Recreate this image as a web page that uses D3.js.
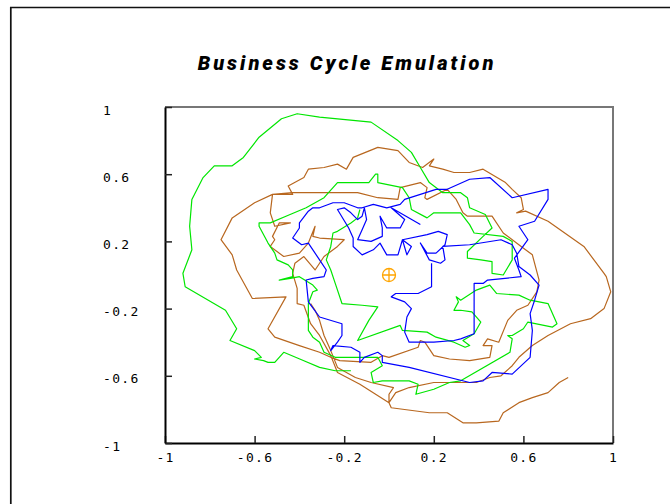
<!DOCTYPE html>
<html>
<head>
<meta charset="utf-8">
<script src="https://cdn.jsdelivr.net/npm/d3@7"></script>
<style>
  body { margin: 0; background: #fff; }
  svg { display: block; }
</style>
</head>
<body>
<svg width="670" height="504"></svg>
<script>
const width = 670, height = 504;
const svg = d3.select("svg");

// three emulated cycles, [x, y] in axis units
const brownCycle = [
  [-0.35,-0.17],[-0.33,-0.21],[-0.31,-0.27],[-0.29,-0.36],[-0.26,-0.45],[-0.23,-0.55],[-0.15,-0.61],[-0.08,-0.64],
  [0.02,-0.67],[0.00,-0.71],[0.00,-0.76],[0.03,-0.70],[0.09,-0.67],[0.20,-0.64],[0.32,-0.64],[0.39,-0.64],
  [0.45,-0.61],[0.50,-0.60],[0.55,-0.54],[0.58,-0.49],[0.64,-0.42],[0.71,-0.36],[0.81,-0.29],[0.90,-0.26],
  [0.96,-0.20],[0.99,-0.10],[0.97,-0.01],[0.96,0.01],[0.87,0.17],[0.71,0.32],[0.61,0.38],[0.57,0.37],
  [0.60,0.39],[0.59,0.46],[0.55,0.51],[0.52,0.55],[0.42,0.63],[0.36,0.61],[0.29,0.61],[0.24,0.63],
  [0.18,0.65],[0.20,0.69],[0.15,0.64],[0.09,0.67],[0.04,0.74],[-0.05,0.76],[-0.16,0.70],[-0.19,0.63],
  [-0.23,0.66],[-0.29,0.64],[-0.36,0.63],[-0.38,0.58],[-0.45,0.53],[-0.43,0.48],[-0.52,0.48],[-0.43,0.49],
  [-0.31,0.49],[-0.14,0.49],[-0.05,0.46],[0.04,0.45],[0.05,0.52],[0.14,0.55],[0.17,0.52],[0.16,0.46],
  [0.17,0.45],[0.26,0.51],[0.30,0.45],[0.33,0.37],[0.35,0.35],[0.46,0.35],[0.51,0.25],[0.59,0.17],
  [0.64,0.12],[0.67,-0.03],[0.66,-0.10],[0.62,-0.18],[0.57,-0.21],[0.53,-0.27],[0.49,-0.40],[0.44,-0.38],
  [0.42,-0.42],[0.46,-0.42],[0.45,-0.49],[0.36,-0.51],[0.27,-0.50],[0.20,-0.48],[0.16,-0.40],[0.14,-0.39],
  [0.13,-0.43],[0.00,-0.49],[-0.03,-0.48],[-0.08,-0.52],[-0.22,-0.51],[-0.26,-0.49],[-0.31,-0.46],[-0.40,-0.42],
  [-0.51,-0.37],[-0.54,-0.32],[-0.46,-0.13],[-0.61,-0.14],[-0.68,0.03],[-0.70,0.12],[-0.75,0.21],[-0.70,0.34],
  [-0.60,0.43],[-0.52,0.48],[-0.53,0.37],[-0.51,0.29],[-0.44,0.31],[-0.49,0.31],[-0.52,0.23],[-0.51,0.21],
  [-0.53,0.17],[-0.47,0.11],[-0.40,0.13],[-0.36,0.19],[-0.33,0.29],[-0.34,0.23],[-0.31,0.22],[-0.20,0.21],
  [-0.23,0.17],[-0.29,0.11],[-0.33,0.03],[-0.38,0.11],[-0.42,0.07],[-0.43,0.01],[-0.41,-0.08],[-0.41,-0.17],
  [-0.38,-0.18],[-0.35,-0.29],[-0.31,-0.36],[-0.26,-0.48],[-0.23,-0.58],[-0.13,-0.65],[0.00,-0.76],[0.01,-0.79],
  [0.18,-0.82],[0.26,-0.82],[0.33,-0.88],[0.39,-0.88],[0.49,-0.87],[0.51,-0.82],[0.58,-0.76],[0.64,-0.73],
  [0.71,-0.70],[0.76,-0.64],[0.80,-0.61]
];

const greenCycle = [
  [-0.13,0.39],[-0.14,0.34],[-0.17,0.31],[-0.23,0.26],[-0.25,0.25],[-0.26,0.17],[-0.28,0.09],[-0.26,0.03],
  [-0.24,-0.05],[-0.21,-0.17],[-0.12,-0.18],[-0.05,-0.19],[-0.09,-0.27],[-0.14,-0.39],[0.05,-0.30],[0.06,-0.33],
  [0.17,-0.34],[0.21,-0.37],[0.29,-0.40],[0.34,-0.43],[0.36,-0.42],[0.33,-0.39],[0.38,-0.35],[0.41,-0.28],
  [0.37,-0.22],[0.32,-0.21],[0.29,-0.21],[0.31,-0.16],[0.30,-0.13],[0.32,-0.15],[0.39,-0.09],[0.45,-0.06],
  [0.48,-0.11],[0.58,-0.12],[0.63,-0.15],[0.71,-0.17],[0.75,-0.29],[0.73,-0.31],[0.62,-0.28],[0.60,-0.32],
  [0.55,-0.36],[0.53,-0.36],[0.55,-0.38],[0.54,-0.46],[0.32,-0.63],[0.27,-0.64],[0.20,-0.68],[0.12,-0.71],
  [0.13,-0.65],[0.09,-0.63],[-0.03,-0.63],[-0.07,-0.64],[-0.08,-0.58],[-0.03,-0.54],[-0.05,-0.49],[-0.14,-0.49],
  [-0.24,-0.49],[-0.29,-0.46],[-0.31,-0.40],[-0.34,-0.37],[-0.36,-0.33],[-0.36,-0.17],[-0.34,-0.10],[-0.32,-0.09],
  [-0.34,-0.06],[-0.40,-0.01],[-0.44,-0.02],[-0.49,-0.03],[-0.43,-0.01],[-0.43,0.03],[-0.45,0.06],[-0.50,0.09],
  [-0.51,0.13],[-0.54,0.19],[-0.58,0.29],[-0.58,0.31],[-0.53,0.31],[-0.46,0.35],[-0.37,0.40],[-0.29,0.46],
  [-0.23,0.55],[-0.09,0.55],[-0.06,0.60],[-0.05,0.60],[-0.05,0.55],[0.06,0.52],[0.09,0.46],[0.10,0.39],
  [0.17,0.34],[0.20,0.37],[0.32,0.37],[0.36,0.30],[0.38,0.25],[0.51,0.23],[0.55,0.20],[0.55,0.09],
  [0.51,0.00],[0.46,0.01],[0.46,0.08],[0.41,0.09],[0.35,0.10],[0.35,0.14],[0.42,0.23],[0.46,0.28],
  [0.43,0.36],[0.36,0.40],[0.35,0.46],[0.32,0.49],[0.24,0.49],[0.18,0.55],[0.14,0.64],[0.10,0.73],
  [0.04,0.80],[-0.08,0.91],[-0.31,0.94],[-0.41,0.96],[-0.48,0.93],[-0.58,0.82],[-0.65,0.70],[-0.70,0.65],
  [-0.78,0.65],[-0.83,0.58],[-0.88,0.45],[-0.89,0.29],[-0.88,0.15],[-0.92,0.01],[-0.91,-0.07],[-0.73,-0.21],
  [-0.68,-0.32],[-0.71,-0.39],[-0.60,-0.45],[-0.57,-0.49],[-0.60,-0.50],[-0.56,-0.51],[-0.54,-0.52],[-0.51,-0.52],
  [-0.47,-0.46],[-0.38,-0.51],[-0.31,-0.55],[-0.24,-0.57],[-0.17,-0.57]
];

const blueCycle = [
  [0.14,0.30],[0.01,0.40],[0.07,0.33],[0.05,0.28],[-0.01,0.28],[-0.04,0.35],[-0.03,0.28],[-0.03,0.23],
  [-0.08,0.20],[-0.14,0.21],[-0.12,0.27],[-0.10,0.33],[-0.11,0.40],[-0.12,0.35],[-0.14,0.33],[-0.17,0.37],
  [-0.20,0.40],[-0.23,0.39],[-0.18,0.28],[-0.16,0.22],[-0.16,0.17],[-0.12,0.12],[-0.07,0.15],[-0.04,0.19],
  [-0.01,0.12],[0.04,0.12],[0.06,0.21],[0.08,0.12],[0.10,0.17],[0.06,0.21],[0.17,0.24],[0.22,0.26],
  [0.26,0.24],[0.25,0.18],[0.21,0.13],[0.17,0.13],[0.14,0.19],[0.18,0.09],[0.23,0.07],[0.25,0.09],
  [0.24,0.17],[0.36,0.18],[0.50,0.21],[0.55,0.18],[0.57,0.13],[0.58,0.05],[0.63,0.00],[0.67,-0.06],
  [0.65,-0.15],[0.63,-0.23],[0.64,-0.33],[0.63,-0.49],[0.55,-0.59],[0.46,-0.58],[0.42,-0.63],[0.36,-0.64],
  [0.09,-0.55],[-0.03,-0.52],[-0.03,-0.48],[-0.05,-0.46],[-0.11,-0.49],[-0.13,-0.52],[-0.13,-0.46],[-0.17,-0.43],
  [-0.25,-0.42],[-0.26,-0.45],[-0.23,-0.40],[-0.21,-0.36],[-0.21,-0.29],[-0.31,-0.25],[-0.36,-0.16],[-0.37,-0.03],
  [-0.34,-0.02],[-0.29,-0.01],[-0.28,0.03],[-0.31,0.09],[-0.36,0.19],[-0.39,0.18],[-0.43,0.22],[-0.40,0.28],
  [-0.40,0.31],[-0.36,0.38],[-0.34,0.40],[-0.31,0.40],[-0.25,0.43],[-0.20,0.43],[-0.14,0.40],[-0.12,0.40],
  [-0.07,0.42],[-0.01,0.40],[0.05,0.42],[0.07,0.45],[0.14,0.48],[0.21,0.51],[0.26,0.51],[0.36,0.57],
  [0.45,0.58],[0.55,0.46],[0.71,0.51],[0.71,0.45],[0.65,0.32],[0.58,0.29],[0.62,0.21],[0.56,0.10],
  [0.58,0.03],[0.59,-0.01],[0.44,-0.03],[0.42,-0.05],[0.38,-0.05],[0.38,-0.35],[0.32,-0.38],[0.29,-0.39],
  [0.20,-0.40],[0.09,-0.40],[0.07,-0.34],[0.08,-0.25],[0.10,-0.20],[0.07,-0.16],[0.01,-0.13],[0.03,-0.11],
  [0.13,-0.11],[0.19,-0.07],[0.19,0.03],[0.19,0.07]
];

const series = [
  { name: "brown", color: "#b8671f", values: brownCycle },
  { name: "green", color: "#00e600", values: greenCycle },
  { name: "blue", color: "#0000ff", values: blueCycle }
];

const equilibrium = [0, 0];
const tickValues = [-1, -0.6, -0.2, 0.2, 0.6, 1];
const title = "Business Cycle Emulation";

const x = d3.scaleLinear().domain([-1, 1]).range([165, 613]);
const y = d3.scaleLinear().domain([-1, 1]).range([443, 107]);

// outer frame (runs off the right and bottom edge)
svg.append("path")
  .attr("d", `M10.8,${height + 5}V7.5H${width + 5}`)
  .attr("fill", "none").attr("stroke", "#111").attr("stroke-width", 1.7);

svg.append("text")
  .attr("x", 347).attr("y", 70)
  .attr("text-anchor", "middle")
  .style("font-family", "Roboto, 'Liberation Sans', sans-serif")
  .style("font-weight", 900).style("font-style", "italic")
  .style("font-size", "20px").style("letter-spacing", "3px")
  .text(title);

// top / right border of the plot box
svg.append("path")
  .attr("d", `M${x(-1)},${y(1)}H${x(1)}V${y(-1)}`)
  .attr("fill", "none").attr("stroke", "#777").attr("stroke-width", 2);

const fmt = d => String(d);
const xAxis = svg.append("g").attr("transform", `translate(0,${y(-1)})`)
  .call(d3.axisBottom(x).tickValues(tickValues).tickFormat(fmt).tickSizeInner(-7).tickSizeOuter(0).tickPadding(10));
const yAxis = svg.append("g").attr("transform", `translate(${x(-1)},0)`)
  .call(d3.axisLeft(y).tickValues(tickValues).tickFormat(fmt).tickSizeInner(-7).tickSizeOuter(0));

[xAxis, yAxis].forEach(g => {
  g.select(".domain").attr("stroke", "#000").attr("stroke-width", 2);
  g.selectAll(".tick line").attr("stroke", "#222").attr("stroke-width", 1.5);
  g.selectAll("text")
    .style("font-family", "'DejaVu Sans Mono', monospace")
    .style("font-size", "13px").style("letter-spacing", "1.3px")
    .attr("fill", "#000");
});
yAxis.selectAll("text").attr("text-anchor", "start").attr("x", 103 - x(-1)).attr("y", 3);

const line = d3.line().x(d => x(d[0])).y(d => y(d[1]));
svg.append("g").selectAll("path")
  .data(series)
  .join("path")
  .attr("d", d => line(d.values))
  .attr("fill", "none")
  .attr("stroke", d => d.color)
  .attr("stroke-width", 1.2)
  .attr("stroke-linejoin", "round");

const m = svg.append("g").attr("transform", `translate(${x(equilibrium[0])},${y(equilibrium[1])})`)
  .attr("stroke", "#ffa500").attr("stroke-width", 1.3).attr("fill", "none");
m.append("circle").attr("r", 6.5);
m.append("path").attr("d", "M-6.5,0H6.5M0,-6.5V6.5");
</script>
</body>
</html>
